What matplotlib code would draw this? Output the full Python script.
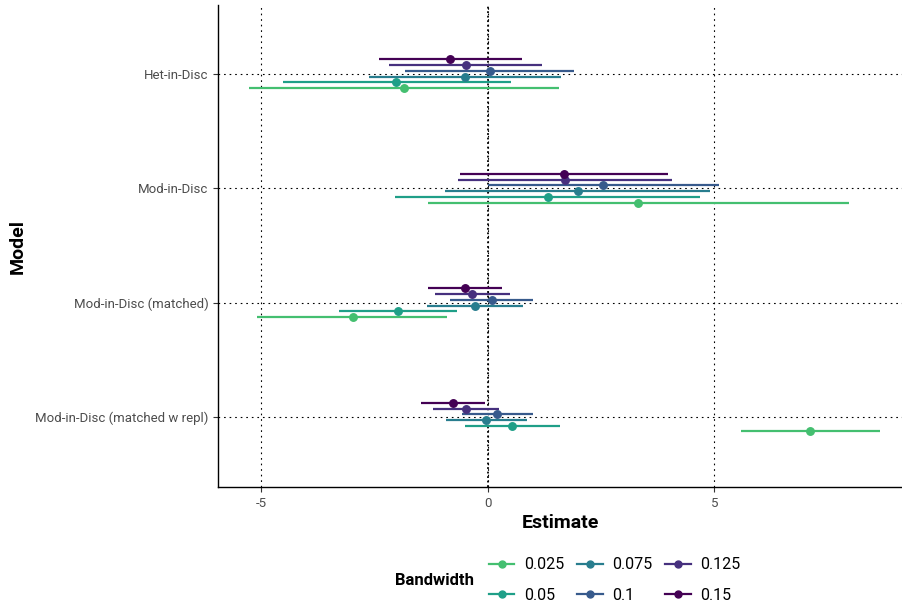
import numpy as np
import matplotlib
matplotlib.use("Agg")
import matplotlib.pyplot as plt
from matplotlib.lines import Line2D

plt.rcParams['font.family'] = ['Roboto', 'DejaVu Sans']

models = ["Mod-in-Disc (matched w repl)", "Mod-in-Disc (matched)", "Mod-in-Disc", "Het-in-Disc"]
bandwidths = ["0.025", "0.05", "0.075", "0.1", "0.125", "0.15"]

# estimate, lower and upper bound per bandwidth; each row follows the models order
est_025 = [7.12, -2.99, 3.32, -1.86]
lo_025 = [5.58, -5.09, -1.32, -5.28]
hi_025 = [8.66, -0.91, 7.96, 1.57]

est_05 = [0.54, -1.98, 1.32, -2.02]
lo_05 = [-0.51, -3.28, -2.05, -4.53]
hi_05 = [1.59, -0.68, 4.68, 0.51]

est_075 = [-0.04, -0.28, 1.99, -0.51]
lo_075 = [-0.93, -1.34, -0.94, -2.63]
hi_075 = [0.87, 0.78, 4.90, 1.61]

est_1 = [0.21, 0.09, 2.53, 0.04]
lo_1 = [-0.58, -0.84, 0.00, -1.83]
hi_1 = [1.00, 1.00, 5.09, 1.90]

est_125 = [-0.49, -0.35, 1.70, -0.49]
lo_125 = [-1.22, -1.18, -0.66, -2.18]
hi_125 = [0.24, 0.49, 4.06, 1.19]

est_15 = [-0.78, -0.51, 1.68, -0.84]
lo_15 = [-1.48, -1.32, -0.61, -2.40]
hi_15 = [-0.07, 0.30, 3.97, 0.74]

estimates = [est_025, est_05, est_075, est_1, est_125, est_15]
lowers = [lo_025, lo_05, lo_075, lo_1, lo_125, lo_15]
uppers = [hi_025, hi_05, hi_075, hi_1, hi_125, hi_15]

colors = [plt.cm.viridis(v) for v in np.linspace(0.7, 0.0, 6)]

fig = plt.figure(figsize=(9.02, 6.04), dpi=100)
ax = fig.add_axes([0.2417, 0.1937, 0.7583, 0.7980])

dot = (0, (1.5, 3.5))
for xv in [-5, 0, 5]:
    ax.axvline(xv, color="black", lw=0.8, ls=dot, zorder=0)
ax.axvline(0, color="black", lw=1.3, ls=(0, (1, 1.5)), zorder=0)

ypos = np.arange(1, len(models) + 1)
for yv in ypos:
    ax.axhline(yv, color="black", lw=0.8, ls=dot, zorder=0)

dodge = 0.05
for i, bw in enumerate(bandwidths):
    y = ypos + (i - 2.5) * dodge
    ax.hlines(y, lowers[i], uppers[i], color=colors[i], lw=1.6, zorder=2)
    ax.plot(estimates[i], y, "o", color=colors[i], ms=5.4, zorder=3)

ax.set_xlim(-5.96, 9.14)
ax.set_ylim(0.39, 4.60)
ax.set_xticks([-5, 0, 5])
ax.set_xticklabels(["-5", "0", "5"])
ax.set_yticks(ypos)
ax.set_yticklabels(models)
ax.tick_params(axis="both", labelsize=9.5, labelcolor="#4d4d4d", color="#333333",
               length=3.5, width=0.8)

for side in ["top", "right"]:
    ax.spines[side].set_visible(False)
for side in ["left", "bottom"]:
    ax.spines[side].set_linewidth(1.0)
    ax.spines[side].set_color("black")

ax.set_xlabel("Estimate", fontsize=14, fontweight="bold", labelpad=3)
ax.set_ylabel("Model", fontsize=14, fontweight="bold", labelpad=6)

handles = [Line2D([0], [0], color=c, lw=1.6, marker="o", ms=5) for c in colors]
fig.legend(handles, bandwidths, ncol=3, loc="center left", bbox_to_anchor=(0.526, 0.0397),
           frameon=False, fontsize=11.5, handlelength=1.6, handletextpad=0.6,
           columnspacing=0.8, labelspacing=0.95)
fig.text(0.438, 0.0397, "Bandwidth", fontsize=12, fontweight="bold", va="center")

fig.savefig("out.png", dpi=100)
